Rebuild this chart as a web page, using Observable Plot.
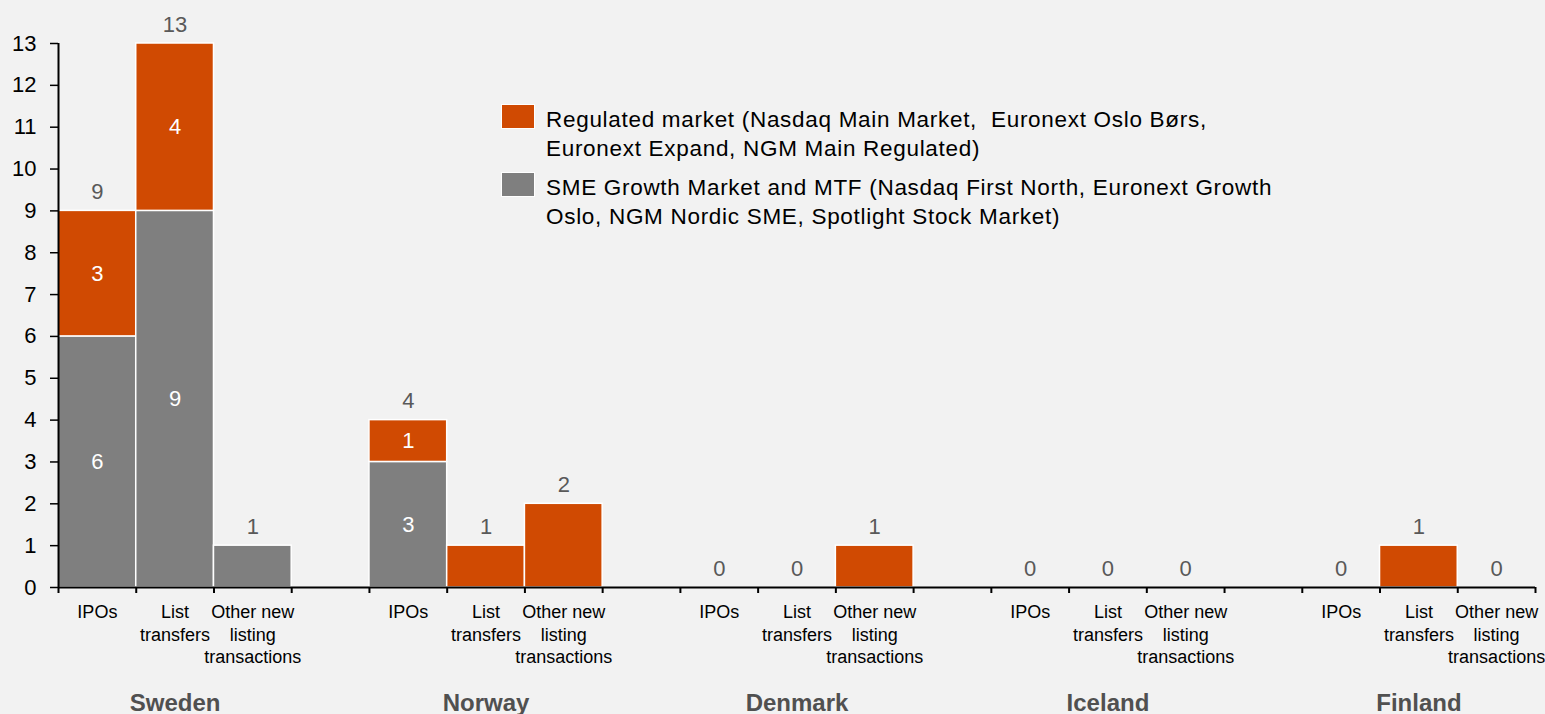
<!DOCTYPE html>
<html>
<head>
<meta charset="utf-8">
<script src="https://cdn.jsdelivr.net/npm/d3@7"></script>
<script src="https://cdn.jsdelivr.net/npm/@observablehq/plot@0.6"></script>
<style>
  body { margin: 0; background: #F2F2F2; font-family: "Liberation Sans", Arial, sans-serif; }
  #wrap { position: relative; width: 1545px; height: 714px; overflow: hidden; }
  .sw { position: absolute; left: 502px; width: 32px; height: 23px; box-shadow: 0 0 0 1px #fff; }
  .lt { position: absolute; left: 546px; font-size: 22.5px; line-height: 29px; letter-spacing: 0.7px; color: #000; white-space: pre; }
</style>
</head>
<body>
<div id="wrap"></div>
<script>
// ---- data ----
const countries = ["Sweden", "Norway", "Denmark", "Iceland", "Finland"];
const categories = ["IPOs", "List transfers", "Other new listing transactions"];
const categoryLabels = ["IPOs", "List\ntransfers", "Other new\nlisting\ntransactions"];
const regulated = [ [3, 4, 0], [1, 1, 2], [0, 0, 1], [0, 0, 0], [0, 1, 0] ];
const sme       = [ [6, 9, 1], [3, 0, 0], [0, 0, 0], [0, 0, 0], [0, 0, 0] ];
const seriesNames = ["Regulated market", "SME Growth Market and MTF"];
const seriesLegend = [
  "Regulated market (Nasdaq Main Market,  Euronext Oslo Børs,\nEuronext Expand, NGM Main Regulated)",
  "SME Growth Market and MTF (Nasdaq First North, Euronext Growth\nOslo, NGM Nordic SME, Spotlight Stock Market)"
];
const seriesColors = ["#D04A02", "#7F7F7F"];
const yTicks = d3.range(0, 14);

// ---- build tables ----
const slotsPerGroup = categories.length + 1; // one empty slot between countries
const cells = [];
const segments = [];
countries.forEach((country, g) => {
  categories.forEach((cat, c) => {
    const slot = g * slotsPerGroup + c;
    const s = sme[g][c], r = regulated[g][c];
    cells.push({country, cat, label: categoryLabels[c], slot, total: s + r});
    const both = s > 0 && r > 0;
    if (s > 0) segments.push({slot, series: seriesNames[1], y1: 0, y2: s, value: s, both});
    if (r > 0) segments.push({slot, series: seriesNames[0], y1: s, y2: s + r, value: r, both});
  });
});
const nSlots = countries.length * slotsPerGroup - 1;
const countryRows = countries.map((name, g) => ({name, mid: g * slotsPerGroup + (categories.length - 1) / 2 + 0.5}));

const chart = Plot.plot({
  width: 1545,
  height: 714,
  marginLeft: 58,
  marginRight: 10,
  marginTop: 43,
  marginBottom: 127,
  style: { background: "transparent", fontFamily: "'Liberation Sans', Arial, sans-serif", color: "#000", overflow: "visible" },
  x: { domain: [0, nSlots], axis: null },
  y: { domain: [0, 13], axis: null },
  color: { domain: seriesNames, range: seriesColors },
  marks: [
    Plot.rect(segments, { x1: "slot", x2: d => d.slot + 1, y1: "y1", y2: "y2", fill: "series", stroke: "#fff", strokeWidth: 1.5 }),
    Plot.text(segments.filter(d => d.both), { x: d => d.slot + 0.5, y: d => (d.y1 + d.y2) / 2, text: d => String(d.value), fill: "#fff", fontSize: 22, lineAnchor: "middle" }),
    Plot.text(cells, { x: d => d.slot + 0.5, y: "total", text: d => String(d.total), fill: "#595959", fontSize: 22, lineAnchor: "bottom", dy: -12 }),
    Plot.axisY({ ticks: yTicks, tickSize: 8, tickPadding: 14, fontSize: 22, strokeWidth: 1.5, tickFormat: d3.format("d") }),
    Plot.axisX({ ticks: d3.range(0, nSlots + 1), tickSize: 6, tickFormat: () => "", strokeWidth: 2 }),
    Plot.ruleY([0], { stroke: "#000", strokeWidth: 2 }),
    Plot.ruleX([0], { stroke: "#000", strokeWidth: 2 }),
    Plot.text(cells, { x: d => d.slot + 0.5, y: 0, text: "label", fontSize: 18, lineAnchor: "top", lineHeight: 1.25, dy: 15, fill: "#000" }),
    Plot.text(countryRows, { x: "mid", y: 0, text: "name", fontSize: 24, fontWeight: "bold", fill: "#505050", lineAnchor: "bottom", dy: 123 })
  ]
});

const wrap = document.getElementById("wrap");
wrap.appendChild(chart);

// legend (HTML overlay)
const legendTops = [105, 173];
seriesNames.forEach((name, i) => {
  const sw = document.createElement("div");
  sw.className = "sw";
  sw.style.top = legendTops[i] + "px";
  sw.style.background = seriesColors[i];
  wrap.appendChild(sw);
  const t = document.createElement("div");
  t.className = "lt";
  t.style.top = legendTops[i] + "px";
  t.textContent = seriesLegend[i];
  wrap.appendChild(t);
});
</script>
</body>
</html>
